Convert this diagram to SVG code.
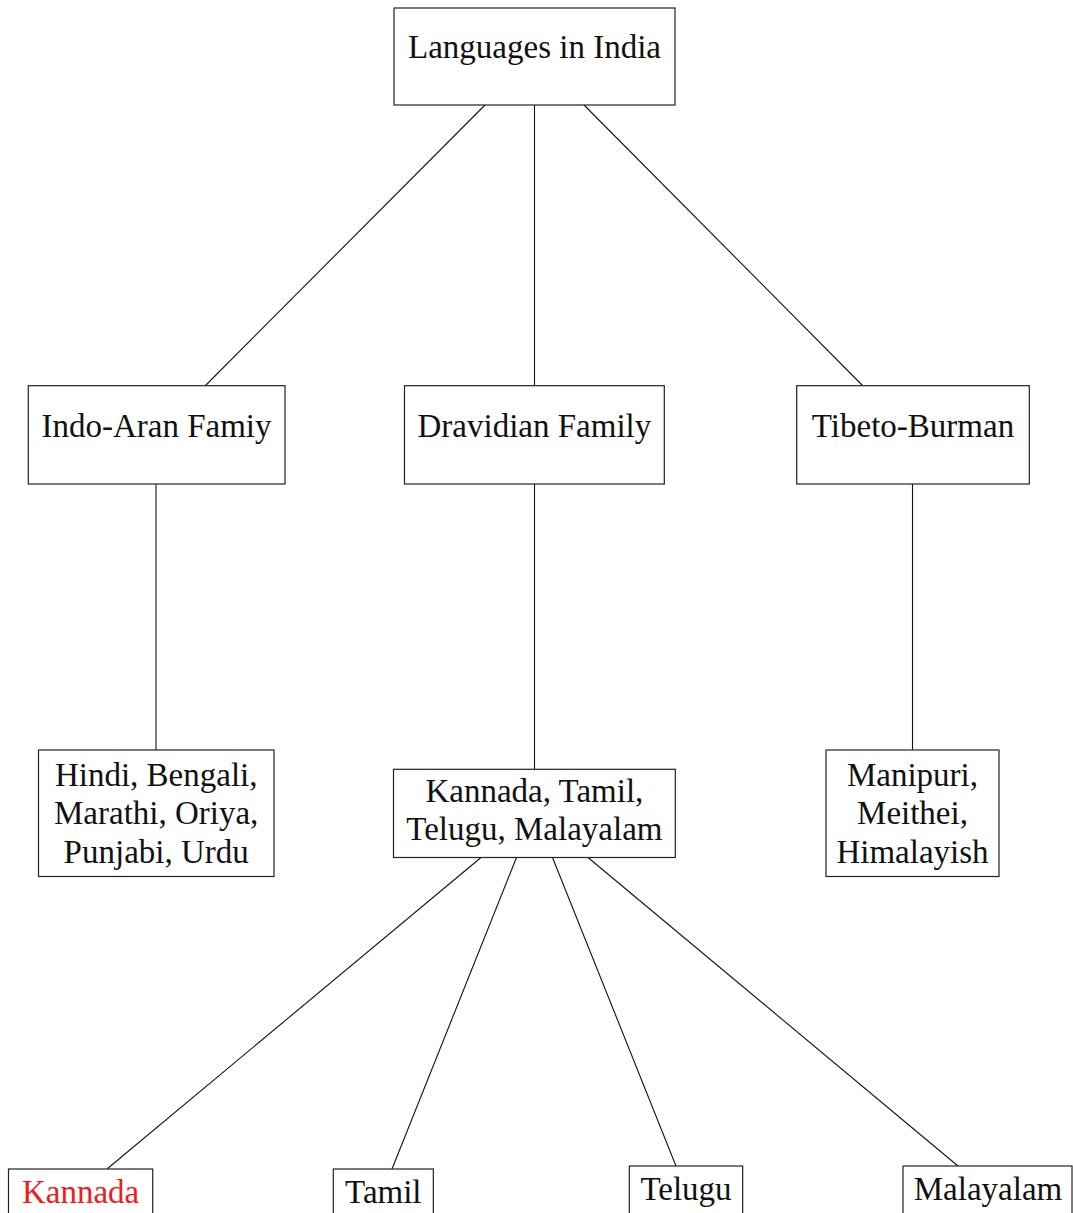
<svg xmlns="http://www.w3.org/2000/svg" width="1073" height="1213" viewBox="0 0 1073 1213">
<style>
rect{fill:#fff;stroke:#222;stroke-width:1.2}
text{font-family:"Liberation Serif","Times New Roman",serif;font-size:33px;fill:#111;text-anchor:middle}
.red{fill:#ee1c1c}
#connectors line{stroke:#111;stroke-width:1.1}
</style>
<rect x="0" y="0" width="1073" height="1213" style="fill:#fff;stroke:none"/>
<g id="connectors">
<line x1="485" y1="105" x2="205" y2="386"/>
<line x1="534.5" y1="105" x2="534.5" y2="386"/>
<line x1="584" y1="105" x2="863" y2="386"/>
<line x1="156" y1="484" x2="156" y2="750"/>
<line x1="534.5" y1="484" x2="534.5" y2="769"/>
<line x1="912.5" y1="484" x2="912.5" y2="750"/>
<line x1="481" y1="857.5" x2="107" y2="1169"/>
<line x1="516.5" y1="857.5" x2="392" y2="1169"/>
<line x1="552.5" y1="857.5" x2="676" y2="1166"/>
<line x1="588" y1="857.5" x2="958" y2="1166"/>
</g>
<g id="root"><rect x="394" y="8" width="281" height="97"/><text x="534.5" y="57.5">Languages in India</text></g>
<g id="indo"><rect x="28.3" y="385.7" width="256.7" height="98.3"/><text x="156.5" y="436.5">Indo-Aran Famiy</text></g>
<g id="dravidian"><rect x="404.5" y="385.7" width="259.8" height="98.3"/><text x="534.4" y="436.5">Dravidian Family</text></g>
<g id="tibeto"><rect x="796.7" y="385.7" width="232.6" height="98.3"/><text x="913" y="436.5">Tibeto-Burman</text></g>
<g id="indo-langs"><rect x="38.5" y="750" width="235.5" height="126.5"/><text x="156.2" y="785.5">Hindi, Bengali,</text><text x="156.2" y="824">Marathi, Oriya,</text><text x="156.2" y="862.5">Punjabi, Urdu</text></g>
<g id="dravidian-langs"><rect x="393.5" y="769.3" width="281.8" height="88.2"/><text x="534.4" y="801.5">Kannada, Tamil,</text><text x="534.4" y="840">Telugu, Malayalam</text></g>
<g id="tibeto-langs"><rect x="826" y="750" width="173" height="126.5"/><text x="912.5" y="785.5">Manipuri,</text><text x="912.5" y="824">Meithei,</text><text x="912.5" y="862.5">Himalayish</text></g>
<g id="kannada"><rect x="8.5" y="1169" width="144.2" height="60"/><text class="red" x="80.6" y="1203">Kannada</text></g>
<g id="tamil"><rect x="333.3" y="1169" width="100" height="60"/><text x="383.3" y="1203">Tamil</text></g>
<g id="telugu"><rect x="629.3" y="1166" width="113.4" height="60"/><text x="686" y="1200">Telugu</text></g>
<g id="malayalam"><rect x="903" y="1166" width="169" height="60"/><text x="988" y="1200">Malayalam</text></g>
</svg>
